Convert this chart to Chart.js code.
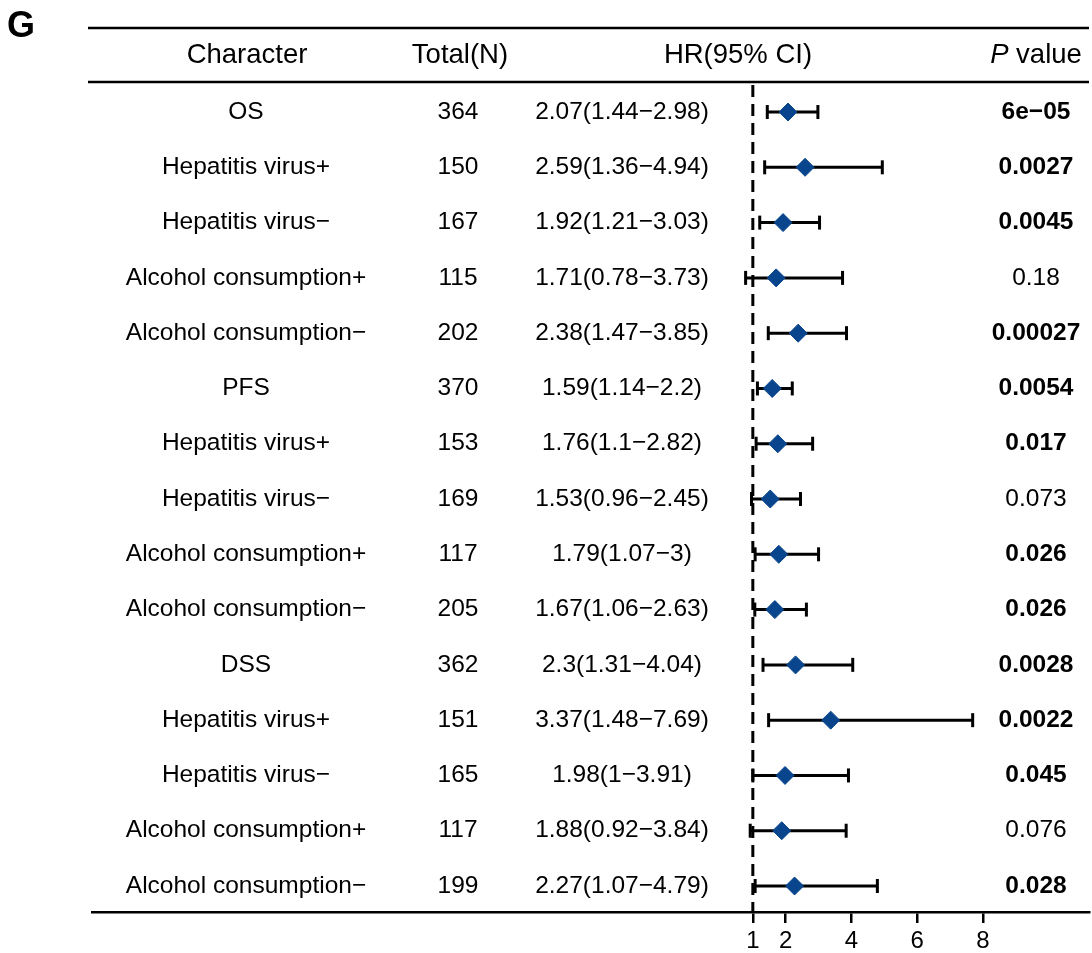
<!DOCTYPE html>
<html>
<head>
<meta charset="utf-8">
<title>Forest plot</title>
<script src="https://cdn.jsdelivr.net/npm/chart.js@4.4.1/dist/chart.umd.min.js"></script>
<style>
    html, body { margin: 0; padding: 0; background: #ffffff; }
    #wrap { position: relative; width: 1092px; height: 953px; }
</style>
</head>
<body>
<div id="wrap"><canvas id="forestChart" width="1092" height="953"></canvas></div>
<script>
// table rows, top to bottom
const characters = [
    'OS', 'Hepatitis virus+', 'Hepatitis virus\u2212', 'Alcohol consumption+', 'Alcohol consumption\u2212',
    'PFS', 'Hepatitis virus+', 'Hepatitis virus\u2212', 'Alcohol consumption+', 'Alcohol consumption\u2212',
    'DSS', 'Hepatitis virus+', 'Hepatitis virus\u2212', 'Alcohol consumption+', 'Alcohol consumption\u2212'
];
const totals = [364, 150, 167, 115, 202, 370, 153, 169, 117, 205, 362, 151, 165, 117, 199];
const hrLabels = [
    '2.07(1.44\u22122.98)', '2.59(1.36\u22124.94)', '1.92(1.21\u22123.03)', '1.71(0.78\u22123.73)', '2.38(1.47\u22123.85)',
    '1.59(1.14\u22122.2)', '1.76(1.1\u22122.82)', '1.53(0.96\u22122.45)', '1.79(1.07\u22123)', '1.67(1.06\u22122.63)',
    '2.3(1.31\u22124.04)', '3.37(1.48\u22127.69)', '1.98(1\u22123.91)', '1.88(0.92\u22123.84)', '2.27(1.07\u22124.79)'
];
const hr = [2.07, 2.59, 1.92, 1.71, 2.38, 1.59, 1.76, 1.53, 1.79, 1.67, 2.3, 3.37, 1.98, 1.88, 2.27];
const lower = [1.44, 1.36, 1.21, 0.78, 1.47, 1.14, 1.1, 0.96, 1.07, 1.06, 1.31, 1.48, 1, 0.92, 1.07];
const upper = [2.98, 4.94, 3.03, 3.73, 3.85, 2.2, 2.82, 2.45, 3, 2.63, 4.04, 7.69, 3.91, 3.84, 4.79];
const pValues = [
    '6e\u221205', '0.0027', '0.0045', '0.18', '0.00027',
    '0.0054', '0.017', '0.073', '0.026', '0.026',
    '0.0028', '0.0022', '0.045', '0.076', '0.028'
];
const pBold = [true, true, true, false, true, true, true, false, true, true, true, true, true, false, true];
const xTicks = [1, 2, 4, 6, 8];
const refLine = 1;

const FONT = "'Liberation Sans', Arial, sans-serif";
const DIAMOND = '#08458C';

// whiskers: one small line dataset per row, caps are rotated 'line' points
const whiskerSets = characters.map(function (c, i) {
    return {
        type: 'line',
        data: [{ x: lower[i], y: i }, { x: upper[i], y: i }],
        borderColor: '#000',
        borderWidth: 3,
        pointStyle: 'line',
        pointRotation: 90,
        pointRadius: 7,
        pointBorderWidth: 3,
        pointBorderColor: '#000',
        pointHoverRadius: 7,
        fill: false,
        order: 2
    };
});

// draws the table text and the header rules
const tablePlugin = {
    id: 'tablePlugin',
    afterDraw: function (chart) {
        const ctx = chart.ctx;
        const y = chart.scales.y;
        ctx.save();

        // panel letter
        ctx.fillStyle = '#000';
        ctx.font = 'bold 36px ' + FONT;
        ctx.textAlign = 'left';
        ctx.textBaseline = 'alphabetic';
        ctx.fillText('G', 7, 37);

        // header rules
        ctx.strokeStyle = '#000';
        ctx.lineWidth = 2.5;
        [28, 82].forEach(function (ly) {
            ctx.beginPath();
            ctx.moveTo(88, ly);
            ctx.lineTo(1089, ly);
            ctx.stroke();
        });

        // header
        const HEAD = '27.5px ' + FONT;
        ctx.textBaseline = 'middle';
        ctx.textAlign = 'center';
        ctx.font = HEAD;
        const hy = y.getPixelForValue(-1) - 1;
        ctx.fillText('Character', 247, hy);
        ctx.fillText('Total(N)', 460, hy);
        ctx.fillText('HR(95% CI)', 738, hy);

        // "P value" with italic P
        ctx.font = 'italic ' + HEAD;
        const wP = ctx.measureText('P').width;
        ctx.font = HEAD;
        const wV = ctx.measureText(' value').width;
        const px = 1036 - (wP + wV) / 2;
        ctx.textAlign = 'left';
        ctx.font = 'italic ' + HEAD;
        ctx.fillText('P', px, hy);
        ctx.font = HEAD;
        ctx.fillText(' value', px + wP, hy);

        // rows
        ctx.textAlign = 'center';
        for (let i = 0; i < characters.length; i++) {
            const ry = y.getPixelForValue(i);
            ctx.font = '24.5px ' + FONT;
            ctx.fillText(characters[i], 246, ry);
            ctx.fillText(String(totals[i]), 458, ry);
            ctx.fillText(hrLabels[i], 622, ry);
            ctx.font = (pBold[i] ? 'bold ' : '') + '24.5px ' + FONT;
            ctx.fillText(pValues[i], 1036, ry);
        }
        ctx.restore();
    }
};

const ctx = document.getElementById('forestChart').getContext('2d');
const forestChart = new Chart(ctx, {
    type: 'scatter',
    data: {
        datasets: [{
            // HR points
            type: 'scatter',
            data: hr.map(function (v, i) { return { x: v, y: i }; }),
            pointStyle: 'rectRot',
            pointRadius: 9,
            pointHoverRadius: 9,
            backgroundColor: DIAMOND,
            borderColor: DIAMOND,
            borderWidth: 1,
            order: 0
        }, {
            // reference line at HR = 1
            type: 'line',
            data: [{ x: refLine, y: -0.49 }, { x: refLine, y: 14.47 }],
            borderColor: '#000',
            borderWidth: 3,
            borderDash: [12, 7],
            pointRadius: 0,
            fill: false,
            order: 3
        }].concat(whiskerSets)
    },
    options: {
        responsive: false,
        animation: false,
        devicePixelRatio: 1,
        layout: {
            autoPadding: false,
            padding: { left: 92, right: 3, top: 28, bottom: 0 }
        },
        plugins: {
            legend: { display: false },
            tooltip: { enabled: false }
        },
        scales: {
            x: {
                type: 'linear',
                min: -19.11,
                max: 11.23,
                afterBuildTicks: function (scale) {
                    scale.ticks = xTicks.map(function (v) { return { value: v }; });
                },
                afterFit: function (scale) {
                    scale.height = 41;
                },
                grid: {
                    drawOnChartArea: false,
                    drawTicks: true,
                    tickLength: 11,
                    tickWidth: 2.5,
                    tickColor: '#000',
                    color: '#000',
                    lineWidth: 2.5
                },
                border: { display: true, color: '#000', width: 2.5 },
                ticks: {
                    color: '#000',
                    font: { family: FONT, size: 24 },
                    padding: 4,
                    autoSkip: false,
                    maxRotation: 0
                }
            },
            y: {
                type: 'linear',
                reverse: true,
                min: -1.52,
                max: 14.47,
                display: false
            }
        }
    },
    plugins: [tablePlugin]
});
</script>
</body>
</html>
